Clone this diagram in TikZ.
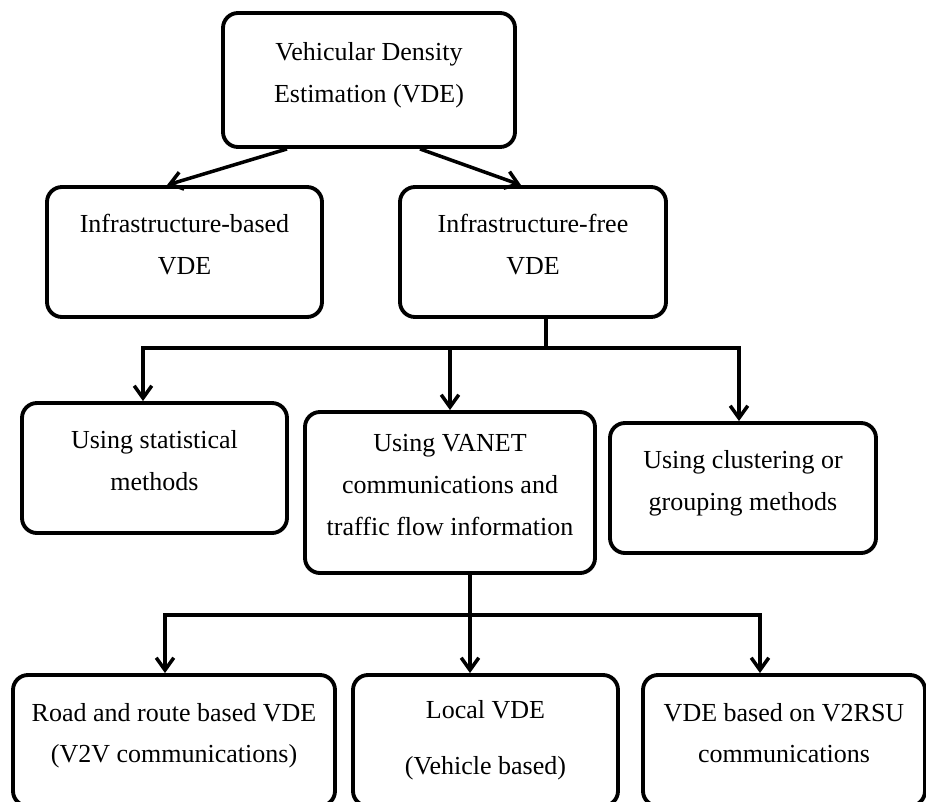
\documentclass[tikz,border=0pt]{standalone}
\usepackage{fontspec}
\setmainfont{Liberation Serif}
\usepackage{tikz}
\usetikzlibrary{positioning, arrows.meta}
\tikzstyle{box}=[draw, line width=2.2pt, rounded corners=0.3cm, align=center, inner sep=2pt, text depth=0.3cm, minimum width=5.3cm, minimum height=2.6cm, font=\fontsize{14.8}{23.8}\selectfont]
\tikzstyle{conn}=[line width=2pt]

\begin{document}
\begin{tikzpicture}[> = {Straight Barb[length=7pt,width=10pt]}]
                    \useasboundingbox (0,0) rectangle (18.52,-16.04);
                    \node [box, minimum width=5.84cm, minimum height=2.68cm] (vde) at (7.38,-1.60) {Vehicular Density\\Estimation (VDE)};
                    \node [box, minimum width=5.5cm] (ibased) [below of=vde, node distance=3.44cm, xshift=-3.69cm] {Infrastructure-based\\VDE};
                    \node [box, minimum width=5.32cm] (ifree) [right of=ibased, node distance=6.97cm] {Infrastructure-free\\VDE};
                    \node [box] (stat) [below of=ibased, node distance=4.32cm, xshift=-0.6cm] {Using statistical\\methods};
                    \node [box, minimum width=5.8cm, minimum height=3.22cm] (vanet) [right of=stat, node distance=5.91cm, yshift=-0.49cm] {Using VANET\\communications and\\traffic flow information};
                    \node [box, minimum width=5.32cm] (clus) [right of=vanet, node distance=5.86cm, yshift=0.09cm] {Using clustering or\\grouping methods};
                    \node [box, minimum height=2.62cm, text depth=0.12cm] (local) [below of=vanet, node distance=4.96cm, xshift=0.71cm] {Local VDE\\[0.3cm](Vehicle based)};
                    \node [box, minimum width=6.44cm, minimum height=2.62cm] (road) [left of=local, node distance=6.23cm] {Road and route based VDE\\(V2V communications)};
                    \node [box, minimum width=5.64cm, minimum height=2.62cm] (v2rsu) [right of=local, node distance=5.97cm] {VDE based on V2RSU\\communications};
                    \coordinate (j1) at (10.92,-6.96);
                    \coordinate (j2) at (9.40,-12.30);
                    \draw[conn, ->] ([xshift=-1.64cm]vde.south) -- ([xshift=-0.35cm]ibased.north);
                    \draw[conn, ->] ([xshift=1.02cm]vde.south) -- ([xshift=-0.24cm]ifree.north);
                    \draw[conn] ([xshift=0.26cm]ifree.south) -- (j1);
                    \draw[conn, ->] (j1) -| ([xshift=-0.23cm]stat.north);
                    \draw[conn, ->] (j1) -| ([xshift=-0.08cm]clus.north);
                    \draw[conn, ->] (j1 -| vanet.north) -- (vanet.north);
                    \draw[conn, ->] ([xshift=0.4cm]vanet.south) -- ([xshift=-0.31cm]local.north);
                    \draw[conn, ->] (j2) -| ([xshift=-0.18cm]road.north);
                    \draw[conn, ->] (j2) -| ([xshift=-0.48cm]v2rsu.north);
                \end{tikzpicture}
\end{document}
